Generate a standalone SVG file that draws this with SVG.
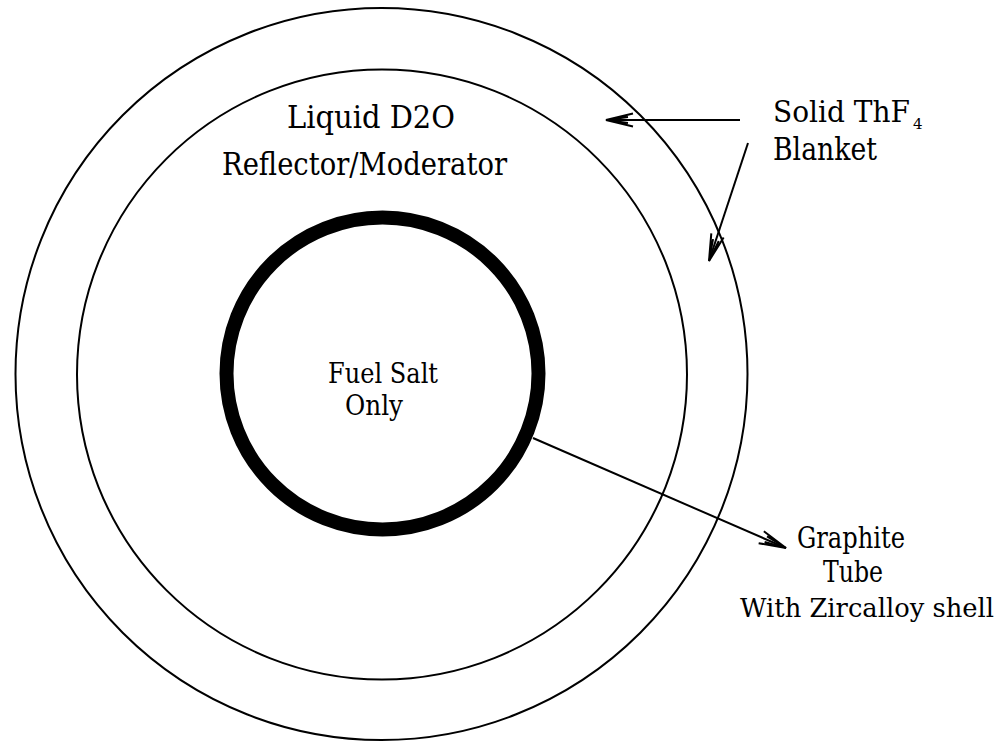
<svg xmlns="http://www.w3.org/2000/svg" width="1000" height="742" viewBox="0 0 1000 742">
<style>
  .ring { fill: none; stroke: #000; stroke-width: 2; }
  .core { fill: none; stroke: #000; stroke-width: 14; }
  .lbl { fill: #000; font-family: "DejaVu Serif", "Liberation Serif", serif; }
  .conn { fill: none; stroke: #000; stroke-width: 2; marker-end: url(#head); }
</style>
<defs>
  <marker id="head" viewBox="-30 -10 32 20" refX="0" refY="0" markerWidth="32" markerHeight="20" markerUnits="userSpaceOnUse" orient="auto">
    <path d="M -27 -6.5 L 0 0 L -27 6.5 M -22 -3 L 0 0 L -22 3" fill="none" stroke="#000" stroke-width="2"/>
  </marker>
</defs>
<rect x="0" y="0" width="1000" height="742" fill="#fff"/>
<g id="blanket">
  <circle class="ring" cx="381.5" cy="374" r="366"/>
  <text class="lbl" x="773" y="122" font-size="30"><tspan textLength="137" lengthAdjust="spacingAndGlyphs">Solid ThF</tspan><tspan font-size="15" dx="3" dy="7">4</tspan></text>
  <text class="lbl" x="773" y="160" font-size="31" textLength="104" lengthAdjust="spacingAndGlyphs">Blanket</text>
</g>
<g id="reflector">
  <circle class="ring" cx="382" cy="374.5" r="305"/>
  <text class="lbl" x="287" y="128" font-size="32" textLength="168" lengthAdjust="spacingAndGlyphs">Liquid D2O</text>
  <text class="lbl" x="222" y="175" font-size="32" textLength="285" lengthAdjust="spacingAndGlyphs">Reflector/Moderator</text>
</g>
<g id="fuel">
  <circle class="core" cx="382.5" cy="373.5" r="156"/>
  <text class="lbl" x="328" y="383" font-size="28" textLength="110" lengthAdjust="spacingAndGlyphs">Fuel Salt</text>
  <text class="lbl" x="345" y="415" font-size="28" textLength="58" lengthAdjust="spacingAndGlyphs">Only</text>
</g>
<g id="graphite-label">
  <text class="lbl" x="797" y="548" font-size="29" textLength="108" lengthAdjust="spacingAndGlyphs">Graphite</text>
  <text class="lbl" x="823" y="582" font-size="29" textLength="60" lengthAdjust="spacingAndGlyphs">Tube</text>
  <text class="lbl" x="740" y="617" font-size="26" textLength="254" lengthAdjust="spacingAndGlyphs">With Zircalloy shell</text>
</g>
<g id="connectors">
  <line class="conn" x1="740" y1="120" x2="606" y2="120"/>
  <line class="conn" x1="748" y1="143" x2="709" y2="261"/>
  <line class="conn" x1="533" y1="438" x2="786" y2="548"/>
</g>
</svg>
